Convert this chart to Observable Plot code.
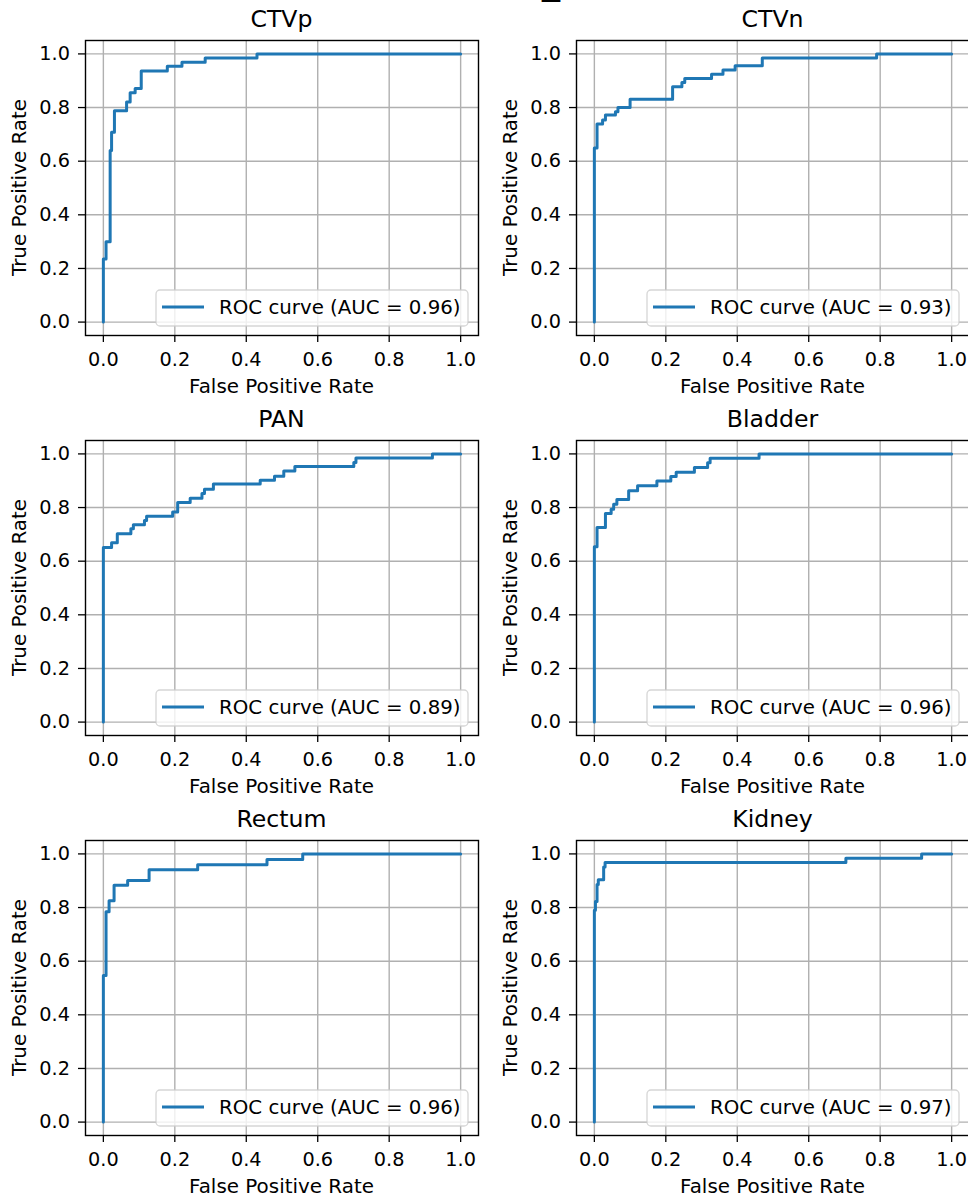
<!DOCTYPE html>
<html>
<head>
<meta charset="utf-8">
<script src="https://cdn.jsdelivr.net/npm/d3@7"></script>
<script src="https://cdn.jsdelivr.net/npm/@observablehq/plot@0.6"></script>
<style>
html, body { margin: 0; padding: 0; background: #fff; overflow: hidden; width: 968px; height: 1197px; }
#root { position: relative; width: 968px; height: 1197px; overflow: hidden; }
.panel { position: absolute; }
#top { position: absolute; left: 0; top: 0; }
</style>
</head>
<body>
<div id="root"><svg id="top" width="968" height="12"><text x="542" y="-6" font-family="DejaVu Sans" font-size="36" fill="black">_</text></svg></div>
<script>
// ---- Data ----
const titles = ["CTVp", "CTVn", "PAN", "Bladder", "Rectum", "Kidney"];
const aucs = ["0.96", "0.93", "0.89", "0.96", "0.96", "0.97"];
const tickValues = [0, 0.2, 0.4, 0.6, 0.8, 1.0];

const ctvpFpr = [0, 0, 0.0075, 0.019, 0.023, 0.031, 0.065, 0.075, 0.089, 0.106, 0.179, 0.22, 0.285, 0.43, 1.0];
const ctvpTpr = [0, 0.235, 0.30, 0.64, 0.708, 0.788, 0.821, 0.855, 0.871, 0.936, 0.954, 0.969, 0.985, 1.0, 1.0];

const ctvnFpr = [0, 0, 0.0075, 0.023, 0.031, 0.059, 0.066, 0.10, 0.219, 0.245, 0.253, 0.328, 0.36, 0.394, 0.47, 0.79, 1.0];
const ctvnTpr = [0, 0.649, 0.739, 0.754, 0.772, 0.784, 0.80, 0.831, 0.878, 0.893, 0.908, 0.924, 0.94, 0.956, 0.985, 1.0, 1.0];

const panFpr = [0, 0, 0.023, 0.039, 0.077, 0.084, 0.115, 0.121, 0.194, 0.208, 0.243, 0.276, 0.283, 0.308, 0.439, 0.479, 0.505, 0.536, 0.701, 0.707, 0.921, 1.0];
const panTpr = [0, 0.651, 0.669, 0.702, 0.721, 0.736, 0.752, 0.768, 0.783, 0.819, 0.835, 0.852, 0.868, 0.888, 0.902, 0.917, 0.936, 0.953, 0.968, 0.985, 1.0, 1.0];

const bladderFpr = [0, 0, 0.0075, 0.031, 0.047, 0.054, 0.063, 0.096, 0.121, 0.175, 0.214, 0.229, 0.28, 0.317, 0.324, 0.461, 1.0];
const bladderTpr = [0, 0.654, 0.726, 0.778, 0.794, 0.812, 0.83, 0.863, 0.881, 0.899, 0.916, 0.932, 0.949, 0.967, 0.984, 1.0, 1.0];

const rectumFpr = [0, 0, 0.0075, 0.016, 0.03, 0.068, 0.128, 0.264, 0.458, 0.558, 1.0];
const rectumTpr = [0, 0.547, 0.784, 0.825, 0.883, 0.901, 0.941, 0.96, 0.979, 1.0, 1.0];

const kidneyFpr = [0, 0, 0.003, 0.0075, 0.011, 0.026, 0.03, 0.704, 0.916, 1.0];
const kidneyTpr = [0, 0.79, 0.823, 0.886, 0.904, 0.951, 0.968, 0.984, 1.0, 1.0];

const fprs = [ctvpFpr, ctvnFpr, panFpr, bladderFpr, rectumFpr, kidneyFpr];
const tprs = [ctvpTpr, ctvnTpr, panTpr, bladderTpr, rectumTpr, kidneyTpr];

// ---- Layout ----
const FRAME_W = 393, FRAME_H = 295;
const BLUE = "#1f77b4";
const root = document.getElementById("root");
const fmt = d3.format(".1f");

titles.forEach((title, i) => {
  const col = i % 2, row = Math.floor(i / 2);
  const left = col ? 484 : 0;
  const top = row * 400;
  const ml = col ? 92 : 85;
  const mr = col ? 5 : 6;
  const mt = 40, mb = 65;
  const width = ml + FRAME_W + mr;
  const height = mt + FRAME_H + mb;
  const data = fprs[i].map((f, k) => ({fpr: f, tpr: tprs[i][k]}));

  const chart = Plot.plot({
    width, height,
    marginLeft: ml, marginRight: mr, marginTop: mt, marginBottom: mb,
    style: {fontFamily: "'DejaVu Sans', sans-serif", fontSize: "19.3px", color: "black", background: "transparent", overflow: "visible", maxWidth: "none"},
    x: {domain: [-0.05, 1.05]},
    y: {domain: [-0.05, 1.05]},
    marks: [
      Plot.gridX(tickValues, {stroke: "#b0b0b0", strokeOpacity: 1, strokeWidth: 1.4}),
      Plot.gridY(tickValues, {stroke: "#b0b0b0", strokeOpacity: 1, strokeWidth: 1.4}),
      Plot.line(data, {x: "fpr", y: "tpr", curve: "step-after", stroke: BLUE, strokeWidth: 3}),
      Plot.frame({stroke: "black", strokeWidth: 1.4}),
      Plot.axisX(tickValues, {tickFormat: fmt, tickSize: 7, tickPadding: 9.5, strokeWidth: 1.3, label: null}),
      Plot.axisY(tickValues, {tickFormat: fmt, tickSize: 7, tickPadding: 8.5, strokeWidth: 1.3, label: null})
    ]
  });

  const svg = d3.select(chart);
  const ff = "'DejaVu Sans', sans-serif";
  // title
  svg.append("text")
    .attr("x", ml + FRAME_W / 2).attr("y", mt - 13.3)
    .attr("text-anchor", "middle").attr("font-family", ff).attr("font-size", 23.6)
    .attr("fill", "black").text(title);
  // x label
  svg.append("text")
    .attr("x", ml + FRAME_W / 2).attr("y", mt + FRAME_H + 58)
    .attr("text-anchor", "middle").attr("font-family", ff).attr("font-size", 19.9)
    .attr("fill", "black").text("False Positive Rate");
  // y label
  svg.append("text")
    .attr("transform", `translate(${ml - 59},${mt + FRAME_H / 2}) rotate(-90)`)
    .attr("text-anchor", "middle").attr("font-family", ff).attr("font-size", 19.9)
    .attr("fill", "black").text("True Positive Rate");
  // legend
  const g = svg.append("g").attr("transform", `translate(${ml},${mt})`);
  g.append("rect")
    .attr("x", 71).attr("y", 250).attr("width", 312).attr("height", 36).attr("rx", 4)
    .attr("fill", "white").attr("fill-opacity", 0.8)
    .attr("stroke", "#cccccc").attr("stroke-opacity", 0.8).attr("stroke-width", 1.3);
  g.append("line")
    .attr("x1", 77).attr("x2", 119).attr("y1", 267).attr("y2", 267)
    .attr("stroke", BLUE).attr("stroke-width", 3);
  g.append("text")
    .attr("x", 134).attr("y", 273.5)
    .attr("text-anchor", "start")
    .attr("font-family", ff).attr("font-size", 19.8).attr("fill", "black")
    .text(`ROC curve (AUC = ${aucs[i]})`);

  const div = document.createElement("div");
  div.className = "panel";
  div.style.left = left + "px";
  div.style.top = top + "px";
  div.appendChild(chart);
  root.appendChild(div);
});
</script>
</body>
</html>
